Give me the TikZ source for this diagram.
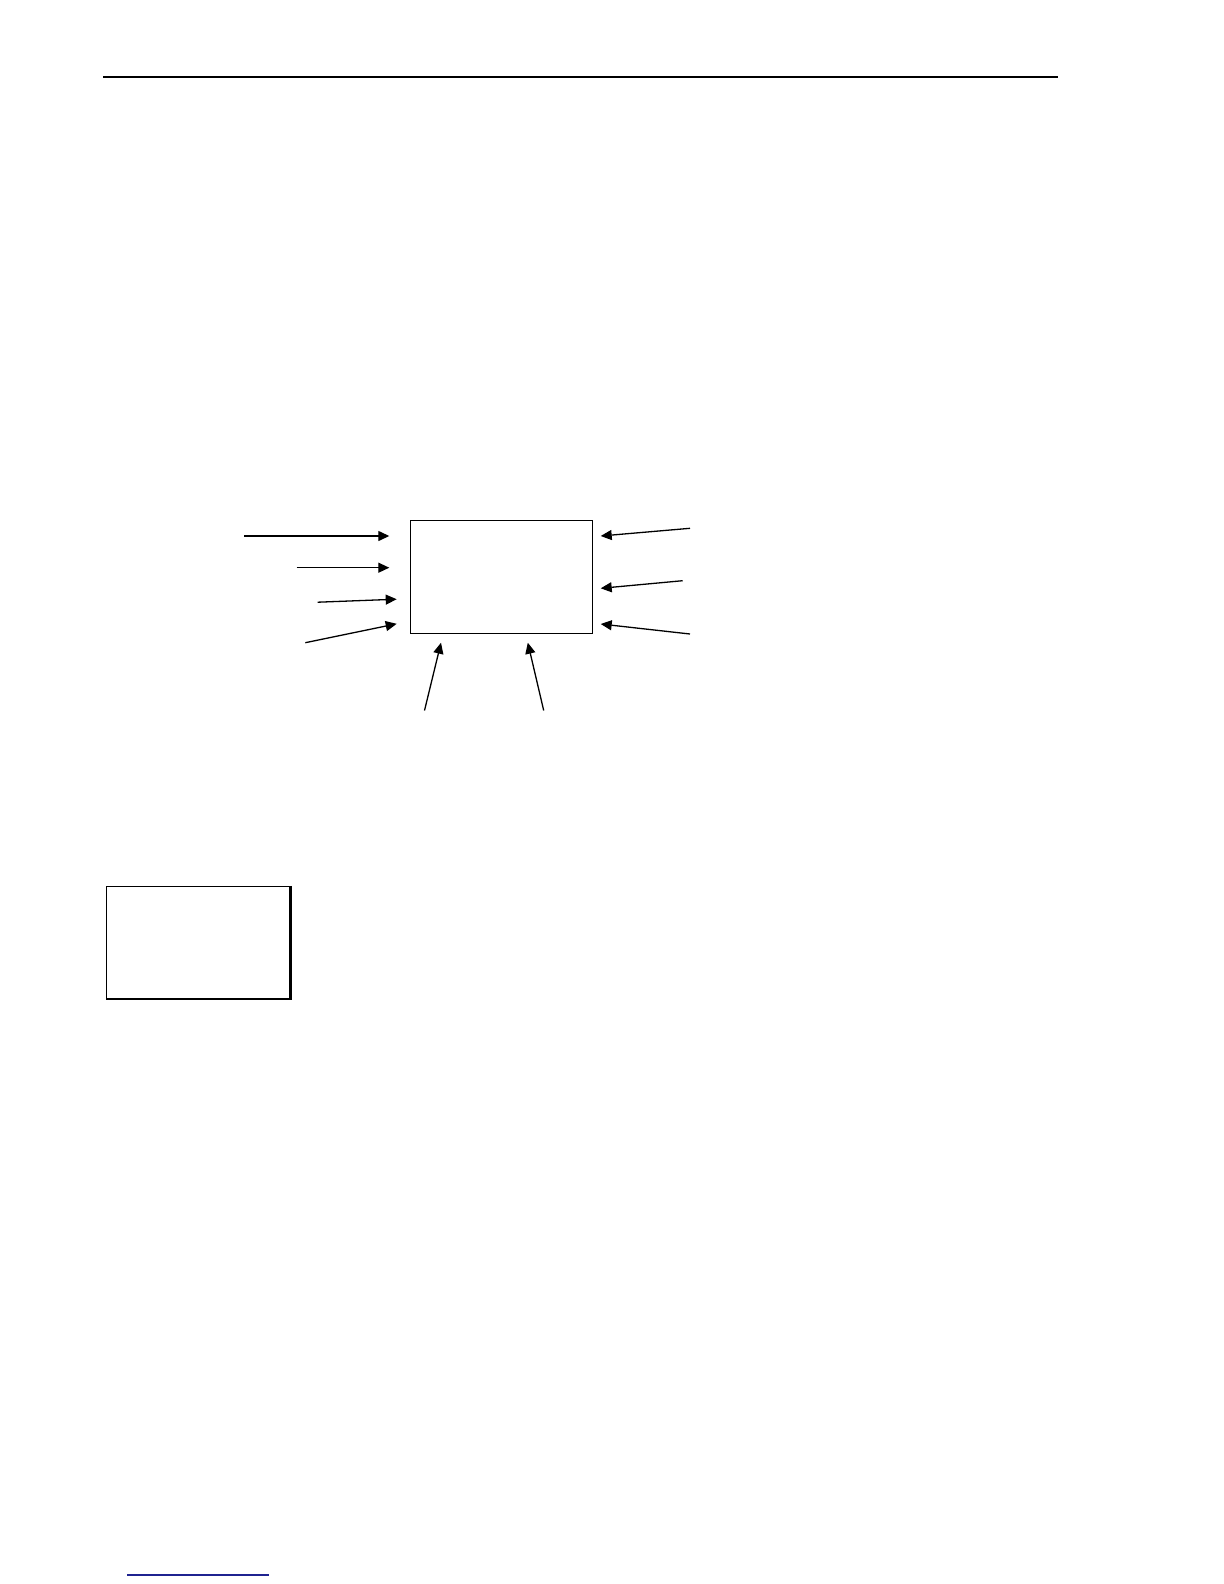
\documentclass[tikz,border=0pt]{standalone}
\usepackage{tikz}
\usepackage{xcolor}
\usetikzlibrary{arrows.meta, positioning, calc}
\definecolor{rulenavy}{HTML}{1F2390}

\begin{document}
\begin{tikzpicture}[
  x=0.5pt, y=-0.5pt,
  box/.style={rectangle, draw=black, line width=0.5pt, minimum width=91pt, minimum height=56.4pt, inner sep=0pt},
  arrow/.style={-{Triangle[length=5.5pt, width=5pt]}, line width=0.65pt, black},
]
\useasboundingbox (0,0) rectangle (1224,1584);

% header and footer rules
\coordinate (hdrL) at (103,77);
\coordinate (hdrR) at (1058,77);
\draw[line width=0.65pt] (hdrL) -- (hdrR);
\coordinate (ftrL) at (127,1575);
\coordinate (ftrR) at (269,1575);
\draw[rulenavy, line width=0.6pt] (ftrL) -- (ftrR);

% central block
\node[box] (hub) at (501.3,576.9) {};

% inputs on the left
\coordinate (l1) at (244,536);   \coordinate (l1t) at (389.3,536);
\coordinate (l2) at (296.7,567.7); \coordinate (l2t) at (389.3,567.7);
\coordinate (l3) at (317.7,602.2); \coordinate (l3t) at (396.7,599.2);
\coordinate (l4) at (305.3,642.7); \coordinate (l4t) at (396.7,623.8);
\foreach \i in {1,...,4} \draw[arrow] (l\i) -- (l\i t);

% inputs on the right
\coordinate (r1) at (690,528.3); \coordinate (r1t) at (600.7,536);
\coordinate (r2) at (682.7,580.7); \coordinate (r2t) at (600.7,588.3);
\coordinate (r3) at (690,634); \coordinate (r3t) at (600.7,624);
\foreach \i in {1,...,3} \draw[arrow] (r\i) -- (r\i t);

% inputs from below
\coordinate (b1) at (424.5,710.5); \coordinate (b1t) at (441,642.7);
\coordinate (b2) at (543.7,710.5); \coordinate (b2t) at (527.8,642.7);
\foreach \i in {1,2} \draw[arrow] (b\i) -- (b\i t);

% second block, with heavier right and bottom edges
\node[box, minimum width=91.75pt, minimum height=56pt] (side) at (198.3,942.4) {};
\draw[line width=1.1pt] (side.north east) -- (side.south east) -- (side.south west);

\end{tikzpicture}
\end{document}
